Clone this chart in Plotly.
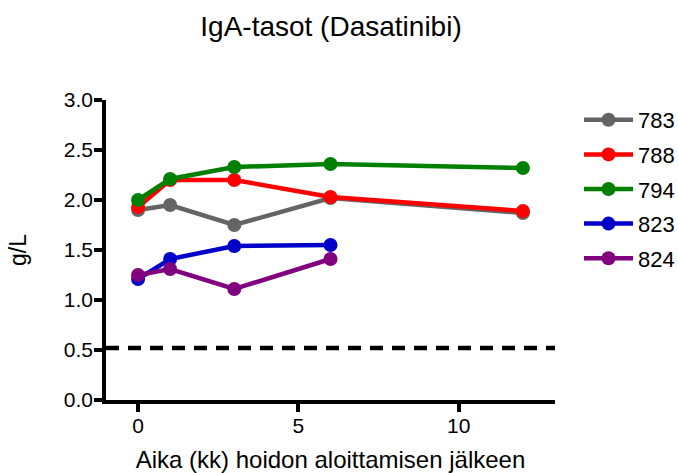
import plotly.graph_objects as go

# Data
months = [0, 1, 3, 6, 12]
series_names = ["783", "788", "794", "823", "824"]
s783 = [1.90, 1.95, 1.75, 2.02, 1.87]
s788 = [1.93, 2.20, 2.20, 2.03, 1.89]
s794 = [2.00, 2.21, 2.33, 2.36, 2.32]
s823 = [1.21, 1.41, 1.54, 1.55]
s824 = [1.25, 1.31, 1.11, 1.41]
threshold = 0.52
colors = ["#646464", "#ff0000", "#008000", "#0000c8", "#800080"]

series_values = [s783, s788, s794, s823, s824]

FONT = "Arial, Liberation Sans, sans-serif"
W, H = 678, 473

fig = go.Figure()
for name, vals, col in zip(series_names, series_values, colors):
    fig.add_trace(go.Scatter(
        x=months[:len(vals)], y=vals, name=name, mode="lines+markers",
        line=dict(color=col, width=4.5), marker=dict(color=col, size=14),
        legendgroup=name,
    ))

fig.add_shape(type="line", xref="paper", yref="y", x0=0, x1=1,
              y0=threshold, y1=threshold,
              line=dict(color="black", width=4.5, dash="13px,9px"))

fig.update_layout(
    width=W, height=H,
    paper_bgcolor="white", plot_bgcolor="white",
    margin=dict(l=106, r=W - 106 - 449, t=100, b=H - 100 - 300, autoexpand=False),
    title=dict(text="IgA-tasot (Dasatinibi)", xref="container",
               x=331 / W, xanchor="center",
               y=1 - 25.7 / H, yanchor="middle",
               font=dict(family=FONT, size=28, color="black")),
    font=dict(family=FONT, color="black"),
    showlegend=True,
    legend=dict(xref="container", x=579 / W, xanchor="left", y=1.0 - 99 / H,
                yref="container", yanchor="top",
                font=dict(family=FONT, size=22, color="black"),
                tracegroupgap=3, itemwidth=49, bgcolor="rgba(0,0,0,0)"),
    xaxis=dict(range=[-1, 13], tickvals=[0, 5, 10], ticks="outside",
               ticklen=8, tickwidth=3.5, tickcolor="black",
               showline=True, linewidth=3.5, linecolor="black",
               showgrid=False, zeroline=False, ticklabelstandoff=-4,
               tickfont=dict(family=FONT, size=21, color="black"),
               title=dict(text="Aika (kk) hoidon aloittamisen jälkeen",
                          font=dict(family=FONT, size=24, color="black"),
                          standoff=16)),
    yaxis=dict(range=[0, 3.0], dtick=0.5, tickformat=".1f", ticks="outside",
               ticklen=8, tickwidth=3.5, tickcolor="black",
               showline=True, linewidth=3.5, linecolor="black",
               showgrid=False, zeroline=False, ticklabelstandoff=-3,
               tickfont=dict(family=FONT, size=21, color="black"),
               title=dict(text="g/L",
                          font=dict(family=FONT, size=23, color="black"),
                          standoff=32)),
)

fig.write_html(
    "out.html",
    config={"displayModeBar": False},
    post_script="document.body.style.margin='0';document.body.style.overflow='hidden';",
)
